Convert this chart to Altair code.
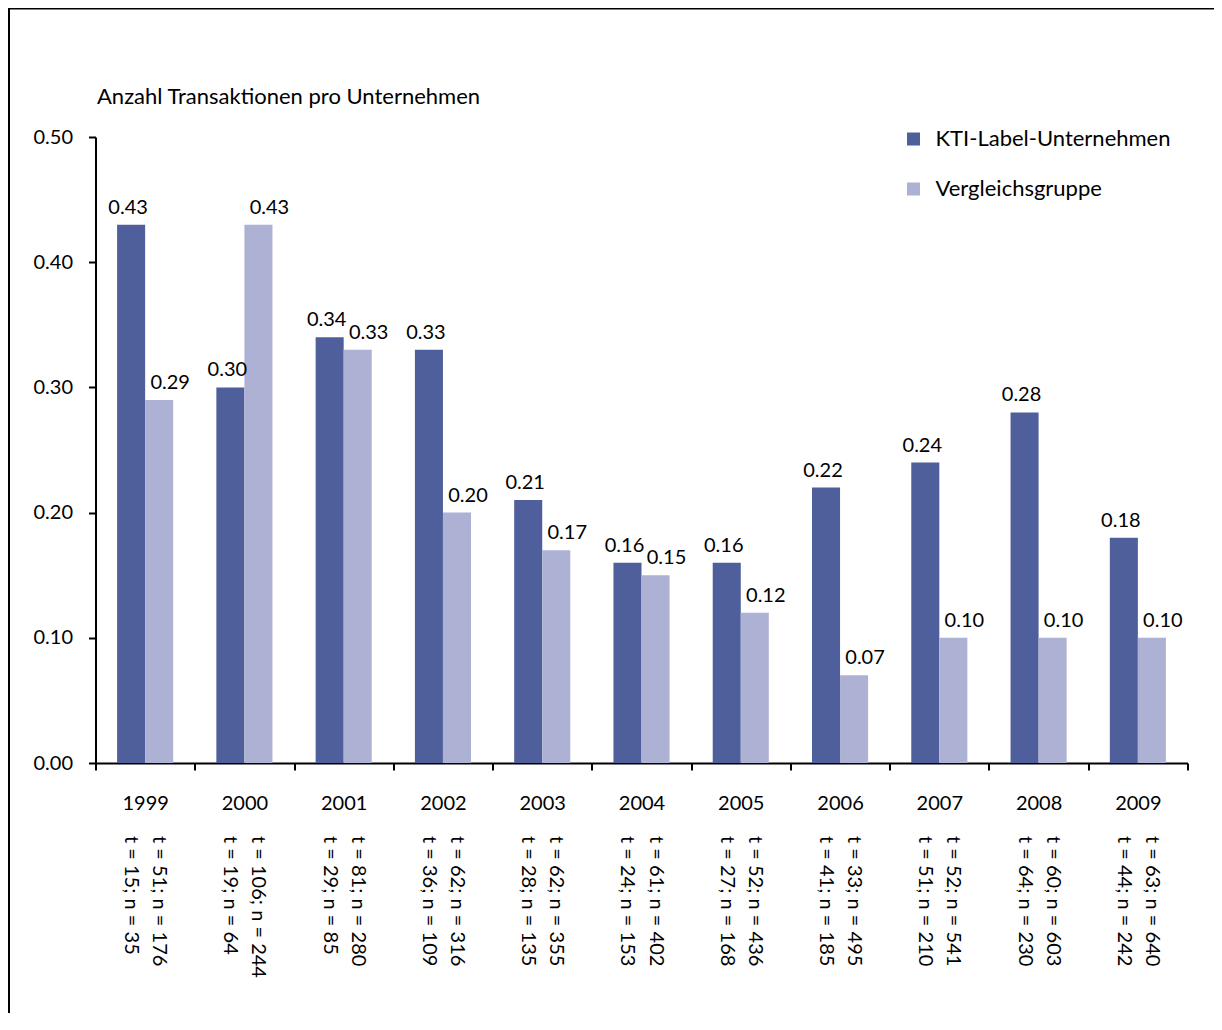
import altair as alt
import pandas as pd

years = ["1999", "2000", "2001", "2002", "2003", "2004", "2005", "2006", "2007", "2008", "2009"]
groups = ["KTI-Label-Unternehmen", "Vergleichsgruppe"]
kti = [0.43, 0.30, 0.34, 0.33, 0.21, 0.16, 0.16, 0.22, 0.24, 0.28, 0.18]
vgl = [0.29, 0.43, 0.33, 0.20, 0.17, 0.15, 0.12, 0.07, 0.10, 0.10, 0.10]
kti_tn = ["t = 15; n = 35", "t = 19; n = 64", "t = 29; n = 85", "t = 36; n = 109",
          "t = 28; n = 135", "t = 24; n = 153", "t = 27; n = 168", "t = 41; n = 185",
          "t = 51; n = 210", "t = 64; n = 230", "t = 44; n = 242"]
vgl_tn = ["t = 51; n = 176", "t = 106; n = 244", "t = 81; n = 280", "t = 62; n = 316",
          "t = 62; n = 355", "t = 61; n = 402", "t = 52; n = 436", "t = 33; n = 495",
          "t = 52; n = 541", "t = 60; n = 603", "t = 63; n = 640"]
colors = ["#4F5F9B", "#ADB1D3"]

rows = []
for i, y in enumerate(years):
    rows.append({"year": y, "group": groups[0], "value": kti[i], "tn": kti_tn[i]})
    rows.append({"year": y, "group": groups[1], "value": vgl[i], "tn": vgl_tn[i]})
df = pd.DataFrame(rows)

FONT = "Lato"
FS = 20
FS_T = 22
W, H = 1092, 626

xenc = alt.X("year:N", sort=years,
             scale=alt.Scale(paddingInner=0, paddingOuter=0),
             axis=alt.Axis(title=None, labelAngle=0, tickBand="extent",
                           domainColor="black", domainWidth=2,
                           tickColor="black", tickWidth=2, tickSize=7,
                           labelFont=FONT, labelFontSize=FS, labelColor="black",
                           labelPadding=23))
xoff = alt.XOffset("group:N", sort=groups,
                   scale=alt.Scale(domain=groups, paddingInner=0, paddingOuter=0.77))

base = alt.Chart(df)

bars = base.mark_bar().encode(
    x=xenc,
    xOffset=xoff,
    y=alt.Y("value:Q",
            scale=alt.Scale(domain=[0, 0.5], nice=False),
            axis=alt.Axis(values=[0, 0.1, 0.2, 0.3, 0.4, 0.5], format=".2f",
                          grid=False, domainColor="black", domainWidth=2,
                          tickColor="black", tickWidth=2, tickSize=7,
                          labelFont=FONT, labelFontSize=FS, labelColor="black",
                          labelPadding=16,
                          title="Anzahl Transaktionen pro Unternehmen",
                          titleAngle=0, titleAlign="left", titleBaseline="middle",
                          titleX=1, titleY=-41, titleFont=FONT, titleFontSize=FS_T,
                          titleFontWeight="normal", titleColor="black")),
    color=alt.Color("group:N", sort=groups,
                    scale=alt.Scale(domain=groups, range=colors),
                    legend=alt.Legend(title=None, orient="none", legendX=807, legendY=-9,
                                      symbolType="square", symbolSize=169,
                                      symbolStrokeWidth=0, symbolOpacity=1,
                                      labelFont=FONT, labelFontSize=FS_T, labelColor="black",
                                      labelLimit=0, labelOffset=11, rowPadding=28, padding=0)),
)

def value_labels(group, dx):
    return base.transform_filter(alt.datum.group == group).mark_text(
        font=FONT, fontSize=FS, color="black", baseline="alphabetic", dy=-11, dx=dx
    ).encode(
        x=alt.X("year:N", sort=years),
        xOffset=alt.XOffset("group:N", sort=groups),
        y="value:Q",
        text=alt.Text("value:Q", format=".2f"),
    )

labels_kti = value_labels(groups[0], -3)
labels_vgl = value_labels(groups[1], 11)

tn = base.mark_text(font=FONT, fontSize=FS, color="black", angle=90,
                    align="left", baseline="middle").encode(
    x=alt.X("year:N", sort=years),
    xOffset=alt.XOffset("group:N", sort=groups),
    y=alt.value(H + 73),
    text="tn:N",
)

one = pd.DataFrame({"k": [0]})
frame_left = alt.Chart(one).mark_rule(color="black", strokeWidth=2).encode(
    x=alt.value(-86.5), y=alt.value(-129), y2=alt.value(3000))
frame_top = alt.Chart(one).mark_rule(color="black", strokeWidth=2).encode(
    y=alt.value(-128.5), x=alt.value(-87.5), x2=alt.value(3000))

chart = alt.layer(frame_left, frame_top, bars, labels_kti, labels_vgl, tn).properties(
    width=W, height=H,
    background="white",
    autosize=alt.AutoSizeParams(type="none"),
    padding={"left": 87.5, "top": 129, "right": 26, "bottom": 250},
).configure_view(stroke=None)

chart.save("out.html", embed_options={"renderer": "svg", "actions": False})
